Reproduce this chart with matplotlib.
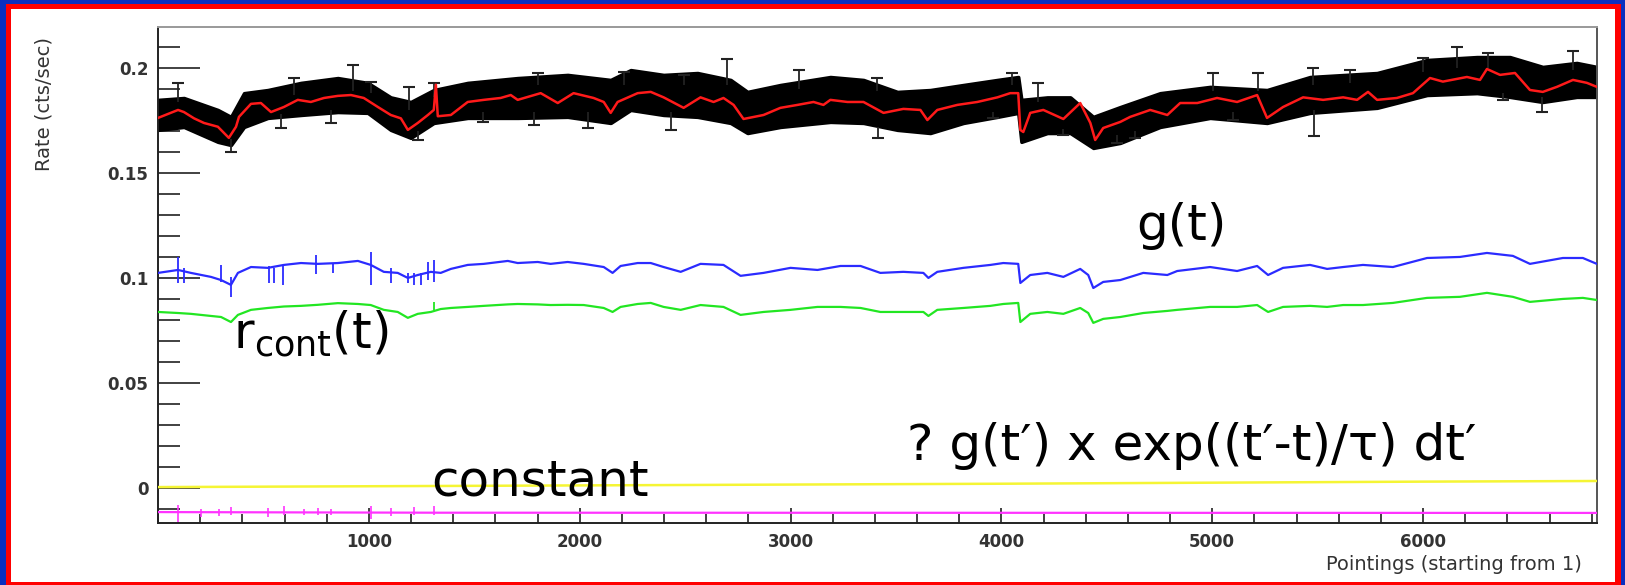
import numpy as np
import matplotlib
matplotlib.use("Agg")
import matplotlib.pyplot as plt
from matplotlib.patches import Rectangle
from matplotlib.ticker import MultipleLocator

plt.rcParams["font.family"] = ["DejaVu Sans"]

# fitted total rate (red line)
red_x = [0, 95, 123, 171, 218, 284, 336, 370, 384, 441, 488, 536, 597, 663, 725, 787,
         853, 915, 976, 1043, 1104, 1152, 1185, 1232, 1280, 1308, 1318, 1327, 1389, 1469,
         1545, 1625, 1673, 1706, 1815, 1896, 1971, 2066, 2114, 2147, 2180, 2275, 2337,
         2398, 2493, 2573, 2635, 2682, 2730, 2777, 2872, 2952, 3033, 3109, 3156, 3189,
         3270, 3346, 3441, 3535, 3616, 3649, 3696, 3791, 3886, 3981, 4042, 4080, 4090,
         4104, 4137, 4199, 4294, 4374, 4422, 4445, 4483, 4564, 4611, 4706, 4787, 4848,
         4929, 5023, 5118, 5213, 5260, 5336, 5431, 5526, 5621, 5687, 5739, 5782, 5876,
         5952, 6033, 6094, 6208, 6270, 6303, 6365, 6436, 6507, 6568, 6635, 6711, 6777, 6824]
red_y = [0.1762, 0.1800, 0.1790, 0.1760, 0.1738, 0.1720, 0.1667, 0.1720, 0.1767, 0.1829,
         0.1833, 0.1790, 0.1814, 0.1848, 0.1838, 0.1857, 0.1867, 0.1871, 0.1857, 0.1814,
         0.1776, 0.1760, 0.1705, 0.1738, 0.1776, 0.1800, 0.1920, 0.1770, 0.1776, 0.1838,
         0.1848, 0.1857, 0.1871, 0.1848, 0.1880, 0.1833, 0.1880, 0.1857, 0.1838, 0.1786,
         0.1838, 0.1880, 0.1886, 0.1860, 0.1810, 0.1860, 0.1838, 0.1857, 0.1824, 0.1757,
         0.1776, 0.1810, 0.1824, 0.1838, 0.1824, 0.1848, 0.1838, 0.1838, 0.1786, 0.1805,
         0.1800, 0.1752, 0.1800, 0.1824, 0.1838, 0.1860, 0.1880, 0.1880, 0.1705, 0.1695,
         0.1786, 0.1800, 0.1757, 0.1833, 0.1738, 0.1657, 0.1714, 0.1743, 0.1767, 0.1800,
         0.1776, 0.1833, 0.1833, 0.1857, 0.1838, 0.1871, 0.1762, 0.1814, 0.1860, 0.1848,
         0.1860, 0.1848, 0.1886, 0.1848, 0.1857, 0.1880, 0.1952, 0.1935, 0.1957, 0.1943,
         0.1995, 0.1967, 0.1976, 0.1895, 0.1886, 0.1910, 0.1943, 0.1929, 0.1910]

# envelope of the measured points (black band)
band_x = [0, 123, 284, 346, 408, 521, 678, 853, 995, 1104, 1199, 1308, 1469, 1706, 1943,
          2147, 2242, 2398, 2559, 2716, 2796, 2952, 3189, 3346, 3507, 3663, 3820, 3981,
          4080, 4095, 4218, 4327, 4436, 4564, 4753, 4990, 5260, 5464, 5782, 6019, 6256,
          6412, 6568, 6729, 6824]
band_hi = [0.1848, 0.1857, 0.1800, 0.1767, 0.1880, 0.1895, 0.1929, 0.1952, 0.1929, 0.1860,
           0.1838, 0.1895, 0.1929, 0.1952, 0.1967, 0.1943, 0.1990, 0.1967, 0.1976, 0.1943,
           0.1886, 0.1919, 0.1957, 0.1943, 0.1886, 0.1895, 0.1919, 0.1943, 0.1957, 0.1848,
           0.1860, 0.1860, 0.1767, 0.1814, 0.1880, 0.1910, 0.1895, 0.1957, 0.1976, 0.2038,
           0.2052, 0.2052, 0.2005, 0.2024, 0.2005]
band_lo = [0.1705, 0.1719, 0.1648, 0.1633, 0.1719, 0.1762, 0.1776, 0.1790, 0.1786, 0.1705,
           0.1667, 0.1738, 0.1762, 0.1762, 0.1767, 0.1738, 0.1800, 0.1776, 0.1767, 0.1738,
           0.1690, 0.1719, 0.1743, 0.1738, 0.1705, 0.1690, 0.1738, 0.1767, 0.1786, 0.1648,
           0.1690, 0.1690, 0.1619, 0.1643, 0.1719, 0.1762, 0.1738, 0.1786, 0.1810, 0.1871,
           0.1880, 0.1862, 0.1838, 0.1862, 0.1862]

# error bars sticking out of the band: x, from, cap
err_x = [95, 924, 1010, 645, 820, 583, 1190, 1308, 1232, 346, 1540, 1782, 2038, 1801, 2208,
         2701, 2493, 3038, 3412, 3417, 4052, 4175, 2431, 4294, 3962, 4549, 4635, 5005, 5218,
         5479, 5483, 5654, 6161, 6308, 6711, 6564, 6379, 5099, 6000]
err_from = [0.184, 0.189, 0.188, 0.187, 0.180, 0.178, 0.180, 0.186, 0.170, 0.166, 0.179,
            0.179, 0.179, 0.192, 0.192, 0.192, 0.192, 0.190, 0.189, 0.172, 0.192, 0.184,
            0.179, 0.171, 0.179, 0.168, 0.170, 0.189, 0.189, 0.192, 0.180, 0.193, 0.200,
            0.200, 0.199, 0.186, 0.188, 0.179, 0.198]
err_cap = [0.1929, 0.2014, 0.1933, 0.1950, 0.1738, 0.1714, 0.1910, 0.1930, 0.1657, 0.1600,
           0.1743, 0.1729, 0.1714, 0.1976, 0.1980, 0.2043, 0.1967, 0.1990, 0.1950, 0.1667,
           0.1976, 0.1929, 0.1705, 0.1680, 0.1760, 0.1643, 0.1667, 0.1976, 0.1976, 0.2000,
           0.1676, 0.1990, 0.2100, 0.2070, 0.2080, 0.1790, 0.1848, 0.1752, 0.2048]

# components: g(t) (blue) and convolved continuum (green)
comp_x = [0, 95, 156, 251, 299, 346, 379, 441, 521, 597, 678, 758, 853, 948, 1009, 1071,
          1137, 1185, 1232, 1294, 1341, 1389, 1469, 1545, 1659, 1706, 1801, 1862, 1943,
          2019, 2114, 2156, 2194, 2275, 2337, 2398, 2479, 2573, 2682, 2763, 2872, 3000,
          3128, 3237, 3332, 3426, 3535, 3630, 3654, 3696, 3820, 3948, 4009, 4080, 4090,
          4137, 4218, 4294, 4374, 4412, 4436, 4483, 4564, 4673, 4787, 4834, 4990, 5118,
          5213, 5265, 5336, 5464, 5545, 5621, 5715, 5857, 6019, 6175, 6303, 6426, 6507,
          6663, 6758, 6824]
blue_y = [0.1024, 0.1038, 0.1024, 0.1005, 0.0990, 0.0967, 0.1024, 0.1052, 0.1048, 0.1062,
          0.1071, 0.1067, 0.1071, 0.1081, 0.1062, 0.1029, 0.1024, 0.1000, 0.1014, 0.1029,
          0.1024, 0.1043, 0.1062, 0.1067, 0.1081, 0.1071, 0.1076, 0.1067, 0.1076, 0.1067,
          0.1052, 0.1024, 0.1057, 0.1071, 0.1071, 0.1052, 0.1029, 0.1067, 0.1062, 0.1010,
          0.1024, 0.1048, 0.1038, 0.1057, 0.1057, 0.1024, 0.1029, 0.1024, 0.1000, 0.1029,
          0.1048, 0.1062, 0.1071, 0.1067, 0.0976, 0.1014, 0.1024, 0.1005, 0.1043, 0.1014,
          0.0952, 0.0981, 0.0990, 0.1024, 0.1014, 0.1033, 0.1052, 0.1033, 0.1057, 0.1014,
          0.1048, 0.1062, 0.1043, 0.1052, 0.1062, 0.1052, 0.1095, 0.1100, 0.1119, 0.1105,
          0.1067, 0.1095, 0.1095, 0.1067]
green_y = [0.0838, 0.0833, 0.0829, 0.0819, 0.0814, 0.0790, 0.0824, 0.0848, 0.0857, 0.0864,
           0.0867, 0.0872, 0.0880, 0.0876, 0.0871, 0.0848, 0.0838, 0.0810, 0.0829, 0.0838,
           0.0852, 0.0857, 0.0862, 0.0867, 0.0874, 0.0876, 0.0874, 0.0871, 0.0872, 0.0871,
           0.0857, 0.0838, 0.0862, 0.0876, 0.0881, 0.0862, 0.0848, 0.0871, 0.0862, 0.0824,
           0.0838, 0.0848, 0.0862, 0.0862, 0.0857, 0.0838, 0.0838, 0.0838, 0.0819, 0.0848,
           0.0857, 0.0867, 0.0876, 0.0881, 0.0790, 0.0829, 0.0838, 0.0829, 0.0857, 0.0833,
           0.0786, 0.0805, 0.0814, 0.0833, 0.0843, 0.0848, 0.0862, 0.0862, 0.0871, 0.0838,
           0.0862, 0.0867, 0.0862, 0.0871, 0.0871, 0.0881, 0.0905, 0.0910, 0.0929, 0.0910,
           0.0886, 0.0900, 0.0905, 0.0895]

# error bars on the blue curve in the first part
bspk_x = [95, 123, 299, 346, 526, 550, 592, 749, 829, 1009, 1104, 1185, 1213, 1246, 1280, 1308]
bspk_lo = [0.0975, 0.0975, 0.0983, 0.0911, 0.0975, 0.0975, 0.0967, 0.1019, 0.1024, 0.0967,
           0.0975, 0.0975, 0.0967, 0.0967, 0.0991, 0.0983]
bspk_hi = [0.1102, 0.1048, 0.1062, 0.1006, 0.1057, 0.1048, 0.1062, 0.1110, 0.1071, 0.1124,
           0.1048, 0.1024, 0.1024, 0.1024, 0.1076, 0.1087]

# constant term (magenta) and its error bars
mag_x = [0, 1330, 6824]
mag_y = [-0.0115, -0.0118, -0.0119]
mspk_x = [95, 204, 289, 346, 521, 597, 692, 758, 820, 1009, 1104, 1213, 1308]
mspk_lo = [-0.0162, -0.0140, -0.0135, -0.0130, -0.0140, -0.0130, -0.0128, -0.0130, -0.0128,
           -0.0150, -0.0135, -0.0130, -0.0130]
mspk_hi = [-0.0081, -0.0098, -0.0100, -0.0090, -0.0095, -0.0085, -0.0100, -0.0095, -0.0100,
           -0.0085, -0.0095, -0.0090, -0.0085]

# yellow reference line near zero
yel_x = [0, 1000, 2000, 3000, 4000, 5000, 6000, 6824]
yel_y = [0.0004, 0.0008, 0.0012, 0.0016, 0.0020, 0.0025, 0.0030, 0.0033]

W, H = 1625, 585
fig = plt.figure(figsize=(W / 100, H / 100), dpi=100)
fig.patch.set_facecolor("#0a2fbf")
fig.patches.append(Rectangle((6 / W, 0), 1615 / W, 581 / H, transform=fig.transFigure,
                             facecolor="#ff0000", edgecolor="none", zorder=-20))
fig.patches.append(Rectangle((11 / W, 3 / H), 1604 / W, 573 / H, transform=fig.transFigure,
                             facecolor="white", edgecolor="none", zorder=-10))

ax = fig.add_axes([158 / W, 62 / H, 1439 / W, 496 / H])
ax.set_facecolor("none")

ax.fill_between(band_x, band_lo, band_hi, color="black", lw=2.5, edgecolor="black", zorder=2)
ax.vlines(err_x, err_from, err_cap, color="#222222", lw=1.3, zorder=2)
ax.plot(err_x, err_cap, "_", color="#222222", ms=9, mew=1.5, zorder=2)
ax.plot(red_x, red_y, color="#ff1a1a", lw=1.8, zorder=3)

ax.plot(comp_x, blue_y, color="#2b2bff", lw=1.6, zorder=3)
ax.vlines(bspk_x, bspk_lo, bspk_hi, color="#2b2bff", lw=1.3, zorder=3)
ax.plot(comp_x, green_y, color="#22e622", lw=1.6, zorder=3)
ax.vlines([1310], [0.0845], [0.0887], color="#22e622", lw=1.3, zorder=3)

ax.plot(yel_x, yel_y, color="#f5f534", lw=1.8, zorder=3)
ax.plot(mag_x, mag_y, color="#ff33ff", lw=1.6, zorder=3)
ax.vlines(mspk_x, mspk_lo, mspk_hi, color="#ff33ff", lw=1.2, zorder=3)

ax.set_xlim(0, 6825)
ax.set_ylim(-0.0167, 0.2195)
ax.set_yticks([0, 0.05, 0.1, 0.15, 0.2])
ax.set_yticklabels(["0", "0.05", "0.1", "0.15", "0.2"])
ax.yaxis.set_minor_locator(MultipleLocator(0.01))
ax.set_xticks([1000, 2000, 3000, 4000, 5000, 6000])
ax.xaxis.set_minor_locator(MultipleLocator(200))
ax.tick_params(axis="y", which="major", direction="in", length=30, width=1.3,
               color="#333333", labelcolor="#333333", labelsize=12, pad=7)
ax.tick_params(axis="y", which="minor", direction="in", length=16, width=1.3, color="#333333")
ax.tick_params(axis="x", which="major", direction="in", length=11, width=1.3,
               color="#333333", labelcolor="#333333", labelsize=12, pad=7)
ax.tick_params(axis="x", which="minor", direction="in", length=6.5, width=1.3, color="#333333")
for lab in ax.get_xticklabels() + ax.get_yticklabels():
    lab.set_fontweight("semibold")
for side in ["left", "bottom"]:
    ax.spines[side].set_color("#222222")
    ax.spines[side].set_linewidth(1.4)
ax.spines["top"].set_color("#999999")
ax.spines["right"].set_color("#555555")
ax.spines["top"].set_linewidth(1.4)
ax.spines["right"].set_linewidth(1.4)

fig.text(1582 / W, 1 - 565 / H, "Pointings (starting from 1)", ha="right", va="center",
         fontsize=14, color="#333333")
fig.text(44 / W, 1 - 37 / H, "Rate (cts/sec)", rotation=90, ha="center", va="top",
         fontsize=14, color="#333333")

fig.text(1181 / W, 1 - 226 / H, "g(t)", fontsize=36, ha="center", va="center")
fig.text(311 / W, 1 - 334 / H, r"r$_{\mathrm{cont}}$(t)", fontsize=36, ha="center", va="center")
fig.text(1192 / W, 1 - 446 / H, "? g(t\u2032) x exp((t\u2032-t)/\u03c4) dt\u2032", fontsize=36,
         ha="center", va="center")
fig.text(540 / W, 1 - 482 / H, "constant", fontsize=36, ha="center", va="center")

fig.savefig("out.png", dpi=100)
